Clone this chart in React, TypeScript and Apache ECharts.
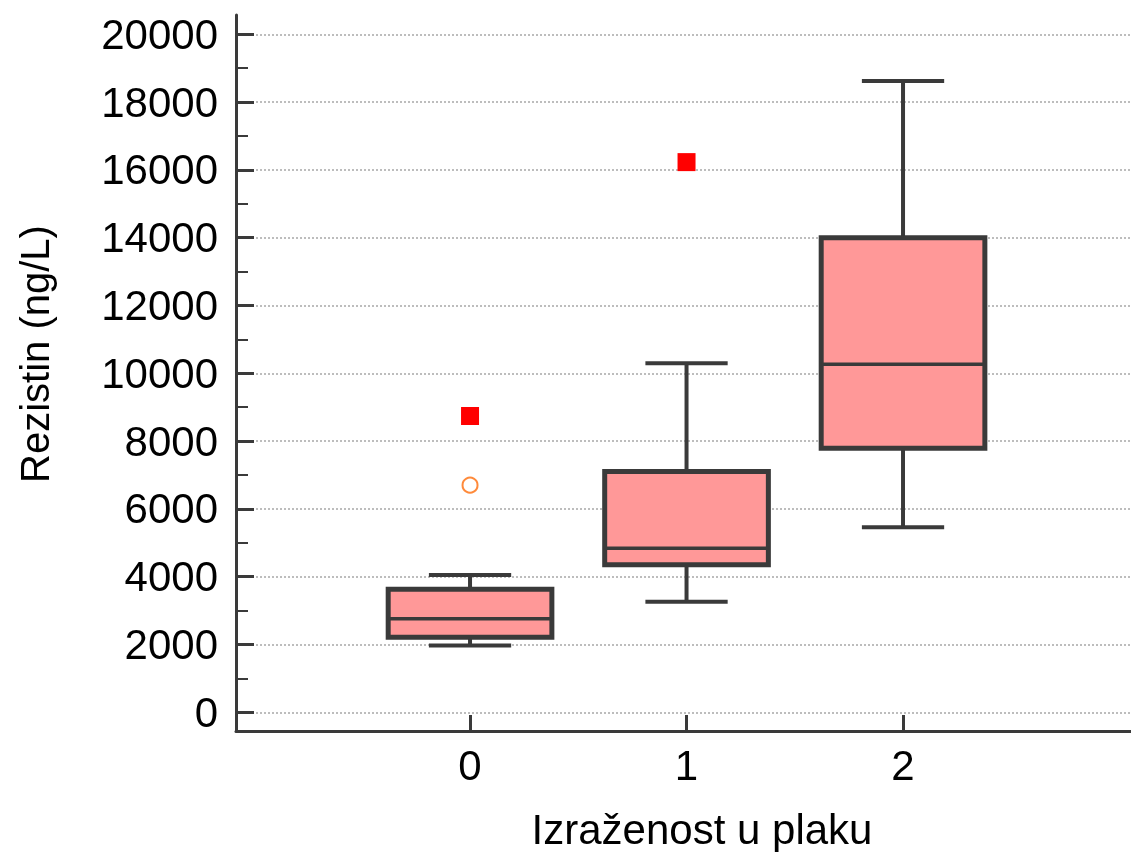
import React, { useEffect, useRef } from "react";
import * as echarts from "echarts";

const categories = [0, 1, 2];
const whiskerLow = [1970, 3260, 5460];
const q1 = [2210, 4350, 7790];
const median = [2760, 4840, 10270];
const q3 = [3630, 7100, 14000];
const whiskerHigh = [4050, 10300, 18620];
const outlierSquares = [[0, 8740], [1, 16230]];
const outlierCircles = [[0, 6700]];
const yMajorTicks = [0, 2000, 4000, 6000, 8000, 10000, 12000, 14000, 16000, 18000, 20000];
const yMinorTicks = [1000, 3000, 5000, 7000, 9000, 11000, 13000, 15000, 17000, 19000];

const FONT = "'Liberation Sans', Arial, sans-serif";
const DARK = "#3a3a3a";

export default function App() {
  const ref = useRef<HTMLDivElement>(null);
  useEffect(() => {
    if (!ref.current) return;
    const chart = echarts.init(ref.current, null, { renderer: "svg" });
    const boxData = categories.map((c, i) => [c, whiskerLow[i], q1[i], median[i], q3[i], whiskerHigh[i]]);
    const BOX_HALF = 0.378;
    const CAP_HALF = 0.19;
    chart.setOption({
      animation: false,
      grid: { left: 236, top: 15, right: 0, bottom: 121, containLabel: false },
      xAxis: {
        type: "value",
        min: -1.081,
        max: 3.053,
        axisLine: { show: true, onZero: false, lineStyle: { color: DARK, width: 3 } },
        axisTick: { show: true, inside: true, length: 16, customValues: categories, lineStyle: { color: DARK, width: 3 } },
        axisLabel: { customValues: categories, fontSize: 42, fontFamily: FONT, color: "#000", margin: 13, formatter: (v: number) => String(v) },
        splitLine: { show: false },
      },
      yAxis: [
        {
          type: "value",
          min: -552,
          max: 20570,
          axisLine: { show: true, onZero: false, lineStyle: { color: DARK, width: 3 } },
          axisTick: { show: true, inside: true, length: 18, customValues: yMajorTicks, lineStyle: { color: DARK, width: 3 } },
          axisLabel: { customValues: yMajorTicks, fontSize: 42, fontFamily: FONT, color: "#000", margin: 18, formatter: (v: number) => String(v) },
          splitLine: { show: true, lineStyle: { color: "#a8a8a8", width: 1.5, type: [2, 2] } },
        },
        {
          type: "value",
          min: -552,
          max: 20570,
          position: "left",
          axisLine: { show: false, onZero: false },
          axisTick: { show: true, inside: true, length: 12, customValues: yMinorTicks, lineStyle: { color: DARK, width: 2 } },
          axisLabel: { show: false },
          splitLine: { show: false },
        },
      ],
      graphic: [
        {
          type: "text",
          x: 702,
          y: 829,
          style: { text: "Izraženost u plaku", fontSize: 42, fontFamily: FONT, fill: "#000", align: "center", verticalAlign: "middle" },
        },
        {
          type: "text",
          x: 35,
          y: 354,
          rotation: Math.PI / 2,
          style: { text: "Rezistin (ng/L)", fontSize: 40, fontFamily: FONT, fill: "#000", align: "center", verticalAlign: "middle" },
        },
      ],
      series: [
        {
          type: "custom",
          data: boxData,
          encode: { x: 0, y: [1, 2, 3, 4, 5] },
          renderItem: (params: any, api: any) => {
            const x = api.value(0);
            const lo = api.value(1);
            const a = api.value(2);
            const m = api.value(3);
            const b = api.value(4);
            const hi = api.value(5);
            const c = (u: number, v: number) => api.coord([u, v]);
            const tl = c(x - BOX_HALF, b);
            const br = c(x + BOX_HALF, a);
            const ls = { stroke: DARK, lineWidth: 4 };
            return {
              type: "group",
              children: [
                { type: "line", shape: { x1: c(x, hi)[0], y1: c(x, hi)[1], x2: c(x, b)[0], y2: c(x, b)[1] }, style: ls },
                { type: "line", shape: { x1: c(x, a)[0], y1: c(x, a)[1], x2: c(x, lo)[0], y2: c(x, lo)[1] }, style: ls },
                { type: "line", shape: { x1: c(x - CAP_HALF, hi)[0], y1: c(x, hi)[1], x2: c(x + CAP_HALF, hi)[0], y2: c(x, hi)[1] }, style: ls },
                { type: "line", shape: { x1: c(x - CAP_HALF, lo)[0], y1: c(x, lo)[1], x2: c(x + CAP_HALF, lo)[0], y2: c(x, lo)[1] }, style: ls },
                {
                  type: "rect",
                  shape: { x: tl[0], y: tl[1], width: br[0] - tl[0], height: br[1] - tl[1] },
                  style: { fill: "#ff9898", stroke: DARK, lineWidth: 5 },
                },
                { type: "line", shape: { x1: tl[0], y1: c(x, m)[1], x2: br[0], y2: c(x, m)[1] }, style: { stroke: DARK, lineWidth: 3.5 } },
              ],
            };
          },
        },
        {
          type: "scatter",
          data: outlierSquares,
          symbol: "rect",
          symbolSize: 18,
          itemStyle: { color: "#ff0000", opacity: 1 },
        },
        {
          type: "scatter",
          data: outlierCircles,
          symbol: "circle",
          symbolSize: 15,
          itemStyle: { color: "#ffffff", borderColor: "#ff8a3a", borderWidth: 2, opacity: 1 },
        },
      ],
    });
    return () => chart.dispose();
  }, []);
  return <div ref={ref} style={{ position: "fixed", left: 0, top: 0, width: 1131, height: 852 }} />;
}
